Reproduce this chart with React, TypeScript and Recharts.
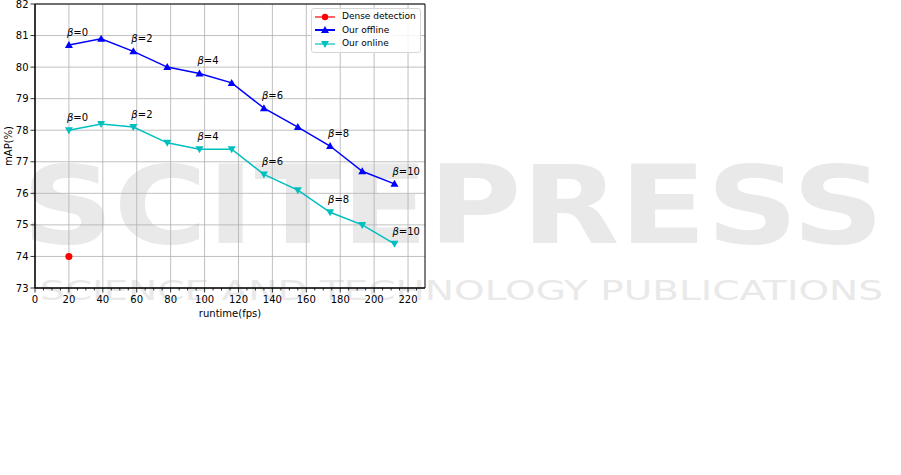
import {
  ComposedChart,
  Line,
  XAxis,
  YAxis,
  CartesianGrid,
  Legend,
  LabelList,
  ReferenceArea,
} from 'recharts';

// runtime (fps) on x, mAP (%) on y
const runtimeFps = [20, 39, 58, 78, 97, 116, 135, 155, 174, 193, 212];
const offlineMap = [80.7, 80.9, 80.5, 80.0, 79.8, 79.5, 78.7, 78.1, 77.5, 76.7, 76.3];
const onlineMap = [78.0, 78.2, 78.1, 77.6, 77.4, 77.4, 76.6, 76.1, 75.4, 75.0, 74.4];
const betaLabels = ['0', '', '2', '', '4', '', '6', '', '8', '', '10'];
const denseFps = [20];
const denseMap = [74];

const xTicks = [0, 5, 10, 15, 20, 25, 30, 35, 40, 45, 50, 55, 60, 65, 70, 75, 80, 85, 90, 95, 100, 105, 110, 115, 120, 125, 130, 135, 140, 145, 150, 155, 160, 165, 170, 175, 180, 185, 190, 195, 200, 205, 210, 215, 220, 225];
const xMajor = [0, 20, 40, 60, 80, 100, 120, 140, 160, 180, 200, 220];
const yTicks = [73, 74, 75, 76, 77, 78, 79, 80, 81, 82];

const FONT = '"DejaVu Sans", sans-serif';
const OFFLINE = '#0000ff';
const ONLINE = '#00bfbf';
const DENSE = '#ff0000';

const offlineData = runtimeFps.map((x, i) => ({ x, y: offlineMap[i], beta: betaLabels[i] }));
const onlineData = runtimeFps.map((x, i) => ({ x, y: onlineMap[i], beta: betaLabels[i] }));
const denseData = denseFps.map((x, i) => ({ x, y: denseMap[i] }));

// major ticks every 20 with labels, minor every 5
const XTick = (props: any) => {
  const { x, y, payload } = props;
  const major = payload.value % 20 === 0;
  return (
    <g>
      <line x1={x} x2={x} y1={y} y2={y + (major ? 4.5 : 2.5)} stroke="#000" strokeWidth={0.8} />
      {major && (
        <text x={x} y={y + 15} textAnchor="middle" fontSize={10} fontFamily={FONT} fill="#000">
          {payload.value}
        </text>
      )}
    </g>
  );
};

const UpTri = (props: any) => {
  const { cx, cy, stroke } = props;
  if (cx == null || cy == null) return null;
  return <path d={`M${cx},${cy - 4} L${cx + 4},${cy + 3} L${cx - 4},${cy + 3} Z`} fill={stroke} />;
};

const DownTri = (props: any) => {
  const { cx, cy, stroke } = props;
  if (cx == null || cy == null) return null;
  return <path d={`M${cx},${cy + 4} L${cx + 4},${cy - 3} L${cx - 4},${cy - 3} Z`} fill={stroke} />;
};

const BetaLabel = (props: any) => {
  const { x, y, value } = props;
  if (!value) return null;
  return (
    <text x={x - 2} y={y - 9} fontSize={10} fontFamily={FONT} fill="#000">
      <tspan fontStyle="italic">β</tspan>
      <tspan>={value}</tspan>
    </text>
  );
};

const legendItems = [
  { name: 'Dense detection', color: DENSE, marker: 'circle' },
  { name: 'Our offline', color: OFFLINE, marker: 'up' },
  { name: 'Our online', color: ONLINE, marker: 'down' },
];

const LegendBox = () => (
  <div
    style={{
      border: '1px solid #d6d6d6',
      borderRadius: 3,
      background: 'rgba(255,255,255,0.85)',
      padding: '1px 4px 1px 2px',
      fontFamily: FONT,
      fontSize: 9,
      lineHeight: '13.5px',
      color: '#000',
    }}
  >
    {legendItems.map((it) => (
      <div key={it.name} style={{ display: 'flex', alignItems: 'center', whiteSpace: 'nowrap' }}>
        <svg width={28} height={12}>
          <line x1={1} x2={21} y1={6} y2={6} stroke={it.color} strokeWidth={it.marker === 'up' ? 2 : 1.2} />
          {it.marker === 'circle' && <circle cx={11} cy={6} r={3.2} fill={it.color} />}
          {it.marker === 'up' && <path d="M11,2 L15,9 L7,9 Z" fill={it.color} />}
          {it.marker === 'down' && <path d="M11,10 L15,3 L7,3 Z" fill={it.color} />}
        </svg>
        <span>{it.name}</span>
      </div>
    ))}
  </div>
);

const Watermark = () => (
  <svg width={901} height={475} style={{ position: 'absolute', left: 0, top: 0 }}>
    <text
      x={22}
      y={243}
      fontSize={108}
      fontWeight="bold"
      fontFamily={FONT}
      fill="#e9e9e9"
      textLength={862}
      lengthAdjust="spacingAndGlyphs"
    >
      SCITEPRESS
    </text>
    <text
      x={40}
      y={300}
      fontSize={27}
      fontFamily={FONT}
      fill="#e9e9e9"
      textLength={843}
      lengthAdjust="spacingAndGlyphs"
    >
      SCIENCE AND TECHNOLOGY PUBLICATIONS
    </text>
  </svg>
);

export default function App() {
  return (
    <div style={{ position: 'absolute', left: 0, top: 0, width: 901, height: 475, background: '#fff' }}>
      <Watermark />
      <div style={{ position: 'absolute', left: 0, top: 0 }}>
        <ComposedChart width={901} height={475} margin={{ top: 4, right: 476, bottom: 157, left: 0 }}>
          <CartesianGrid
            stroke="#b0b0b0"
            strokeWidth={0.8}
            verticalValues={xMajor}
            horizontalValues={yTicks}
            syncWithTicks={false}
          />
          <XAxis
            type="number"
            dataKey="x"
            domain={[0, 230]}
            ticks={xTicks}
            interval={0}
            tickLine={false}
            tickSize={0}
            tickMargin={0}
            tick={<XTick />}
            height={30}
            axisLine={{ stroke: '#000', strokeWidth: 1 }}
            allowDataOverflow
            label={{ value: 'runtime(fps)', position: 'insideBottom', offset: 1, fontSize: 10, fontFamily: FONT, fill: '#000' }}
          />
          <YAxis
            type="number"
            dataKey="y"
            domain={[73, 82]}
            ticks={yTicks}
            interval={0}
            width={35}
            tickSize={4.5}
            tickMargin={2}
            tickLine={{ stroke: '#000', strokeWidth: 0.8 }}
            axisLine={{ stroke: '#000', strokeWidth: 1 }}
            tick={{ fontSize: 10, fontFamily: FONT, fill: '#000' }}
            allowDataOverflow
            label={{ value: 'mAP(%)', angle: -90, position: 'insideLeft', offset: 8, fontSize: 10, fontFamily: FONT, fill: '#000', style: { textAnchor: 'middle' } }}
          />
          <ReferenceArea x1={0} x2={230} y1={73} y2={82} fill="none" stroke="#000" strokeWidth={1} ifOverflow="visible" />
          <Line
            data={denseData}
            dataKey="y"
            name="Dense detection"
            stroke={DENSE}
            strokeWidth={1.5}
            dot={{ r: 3.5, fill: DENSE, stroke: DENSE, strokeWidth: 0 }}
            isAnimationActive={false}
          />
          <Line
            data={offlineData}
            dataKey="y"
            name="Our offline"
            stroke={OFFLINE}
            strokeWidth={1.5}
            dot={<UpTri />}
            isAnimationActive={false}
          >
            <LabelList dataKey="beta" content={<BetaLabel />} />
          </Line>
          <Line
            data={onlineData}
            dataKey="y"
            name="Our online"
            stroke={ONLINE}
            strokeWidth={1.5}
            dot={<DownTri />}
            isAnimationActive={false}
          >
            <LabelList dataKey="beta" content={<BetaLabel />} />
          </Line>
          <Legend
            layout="vertical"
            align="center"
            verticalAlign="middle"
            content={<LegendBox />}
            wrapperStyle={{ position: 'absolute', left: 311, top: 8, width: 'auto', height: 'auto' }}
          />
        </ComposedChart>
      </div>
    </div>
  );
}
